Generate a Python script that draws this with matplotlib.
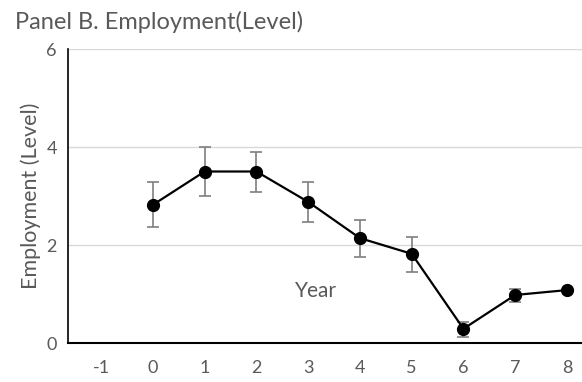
import numpy as np
import matplotlib.pyplot as plt

# data
years = [-1, 0, 1, 2, 3, 4, 5, 6, 7, 8]
pt_years = [0, 1, 2, 3, 4, 5, 6, 7, 8]
emp = [2.82, 3.50, 3.50, 2.88, 2.14, 1.82, 0.29, 0.98, 1.08]
err_hi = [3.29, 3.99, 3.90, 3.29, 2.51, 2.17, 0.43, 1.10, 1.08]
err_lo = [2.37, 3.01, 3.08, 2.46, 1.75, 1.45, 0.13, 0.84, 1.08]

plt.rcParams['font.family'] = ['Lato', 'DejaVu Sans']
grey = '#595959'

fig = plt.figure(figsize=(5.82, 3.82), dpi=100)
ax = fig.add_axes([68/582, 1-343/382, 1-68/582, (343-49)/382])

emp = np.array(emp)
yerr = [emp-np.array(err_lo), np.array(err_hi)-emp]
ax.errorbar(pt_years, emp, yerr=yerr, fmt='none', ecolor='#7f7f7f',
            elinewidth=1.2, capsize=4, capthick=1.2, zorder=2)
ax.plot(pt_years, emp, 'o-', color='black', lw=1.6, ms=8.5, zorder=3)

ax.set_xlim(-1.64, 8.29)
ax.set_ylim(0, 6)
ax.set_yticks([0, 2, 4, 6])
ax.set_xticks(years)
ax.set_xticklabels([str(y) for y in years])
ax.grid(axis='y', color='#d9d9d9', lw=1)
ax.set_axisbelow(True)
for s in ['top', 'right']:
    ax.spines[s].set_visible(False)
ax.spines['left'].set_color('black')
ax.spines['bottom'].set_color('black')
ax.spines['left'].set_linewidth(1.2)
ax.spines['bottom'].set_linewidth(1.5)
ax.tick_params(length=0, labelsize=13, colors=grey)
ax.tick_params(axis='x', pad=12)
ax.tick_params(axis='y', pad=8)

ax.set_ylabel('Employment (Level)', fontsize=15.5, color=grey, labelpad=4)
fig.text(316/582, 1-291/382, 'Year', fontsize=15, color=grey, ha='center', va='center')
fig.text(15/582, 1-22/382, 'Panel B. Employment(Level)', fontsize=17, color=grey, ha='left', va='center')

fig.savefig('out.png', dpi=100)
